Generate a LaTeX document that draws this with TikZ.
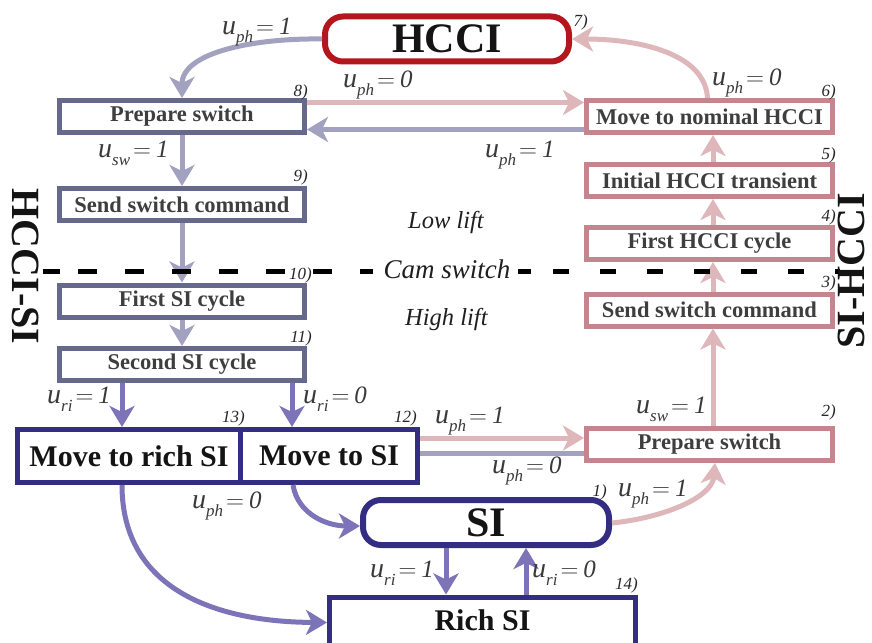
\documentclass[tikz,border=0pt]{standalone}
\usepackage{fontspec}
\setmainfont{Liberation Serif}
\usetikzlibrary{arrows.meta}

\definecolor{hcciRed}{RGB}{180,22,30}
\definecolor{siBlue}{RGB}{51,46,130}
\definecolor{leftEdge}{RGB}{102,104,140}
\definecolor{rightEdge}{RGB}{196,134,142}
\definecolor{arrowGrey}{RGB}{163,161,192}
\definecolor{arrowPink}{RGB}{222,183,187}
\definecolor{arrowViolet}{RGB}{124,115,184}
\definecolor{boxText}{RGB}{62,62,62}
\definecolor{labText}{RGB}{58,58,58}

\newcommand{\fsz}[1]{\fontsize{#1}{#1}\selectfont}
% control-signal label: u_<sub> = <value>
\newcommand{\ctl}[2]{{\fsz{28}\itshape u}\raisebox{-8pt}{\fsz{17}\itshape #1}\hspace{3pt}{\fsz{26}$=$}\hspace{5pt}{\fsz{25}\itshape #2}}

\tikzset{
  bigtip/.style={-{Stealth[length=21pt,width=25pt,inset=6pt]}},
  flowgrey/.style={draw=arrowGrey, line width=5pt, bigtip},
  flowpink/.style={draw=arrowPink, line width=5pt, bigtip},
  flowviolet/.style={draw=arrowViolet, line width=5pt, bigtip},
  stateL/.style={draw=leftEdge, fill=white, line width=5pt, minimum width=245pt,
    minimum height=32pt, inner sep=0pt, font=\bfseries\fsz{22.5}, text=boxText},
  stateR/.style={draw=rightEdge, fill=white, line width=5pt, minimum width=246pt,
    minimum height=32pt, inner sep=0pt, font=\bfseries\fsz{22.5}, text=boxText},
  stateSI/.style={draw=siBlue, fill=white, line width=5pt, minimum height=53pt,
    inner sep=0pt, font=\bfseries\fsz{30}, text=black!92},
  mode/.style={fill=white, line width=6pt, rounded corners=18pt, minimum width=244pt,
    minimum height=45pt, inner sep=0pt, font=\bfseries\fsz{42}, text=black!92},
  stepnum/.style={anchor=base east, inner sep=0pt, font=\itshape\fsz{17}, text=black!85},
  ctllab/.style={anchor=base west, inner sep=0pt, text=labText},
  lift/.style={anchor=base west, inner sep=0pt, font=\itshape\fsz{24.5}, text=black!88},
  side/.style={inner sep=0pt, font=\bfseries\fsz{40}, text=black!92},
  camline/.style={draw=black, line width=5pt}
}

\begin{document}
\begin{tikzpicture}[x=1pt,y=-1pt]
\clip (0,0) rectangle (872,642);
\fill[white] (0,0) rectangle (872,642);

% operating modes
\node[mode, draw=hcciRed] (hcci) at (447,39) {HCCI};
\node[mode, draw=siBlue, minimum width=246pt] (si) at (486,522.5) {SI};

% HCCI -> SI sequence (left column)
\node[stateL] (prepL)   at (182,116.5) {Prepare switch};
\node[stateL] (sendL)   at (182,204.5) {Send switch command};
\node[stateL] (firstSI) at (182,301)   {First SI cycle};
\node[stateL] (secSI)   at (182,364.5) {Second SI cycle};

% SI -> HCCI sequence (right column)
\node[stateR] (nominal) at (709.5,116.5) {Move to nominal HCCI};
\node[stateR] (initH)   at (709.5,180.5) {Initial HCCI transient};
\node[stateR] (firstH)  at (709.5,243.5) {First HCCI cycle};
\node[stateR] (sendR)   at (709.5,310)   {Send switch command};
\node[stateR] (prepR)   at (709.5,444.5) {Prepare switch};

% SI states
\node[stateSI, minimum width=223pt] (moveRich) at (129,456) {Move to rich SI};
\node[stateSI, minimum width=177pt] (moveSI)   at (329,456) {Move to SI};
\node[stateSI, minimum width=306pt, minimum height=80pt, anchor=north,
      text height=20.5pt, text depth=33pt] (rich) at (482.5,594.5) {Rich SI};

% step numbers
\node[stepnum] (s1)  at (607,496) {1)};
\node[stepnum] (s2)  at (836,416) {2)};
\node[stepnum] (s3)  at (836,287) {3)};
\node[stepnum] (s4)  at (836,221) {4)};
\node[stepnum] (s5)  at (836,159) {5)};
\node[stepnum] (s6)  at (836,96)  {6)};
\node[stepnum] (s7)  at (588,27)  {7)};
\node[stepnum] (s8)  at (308,96)  {8)};
\node[stepnum] (s9)  at (308,181) {9)};
\node[stepnum] (s10) at (312,279) {10)};
\node[stepnum] (s11) at (312,342) {11)};
\node[stepnum] (s12) at (417,422) {12)};
\node[stepnum] (s13) at (245,422) {13)};
\node[stepnum] (s14) at (638,589) {14)};

% transitions, left column
\draw[flowgrey] (hcci.west) .. controls (255,38) and (182,52) .. (prepL.north);
\draw[flowgrey] (prepL.south) -- (sendL.north);
\draw[flowgrey] (sendL.south) -- (firstSI.north);
\draw[flowgrey] (firstSI.south) -- (secSI.north);

% transitions between the columns at the top
\draw[flowpink] ([yshift=14pt]prepL.east) -- ([yshift=14pt]nominal.west);
\draw[flowgrey] ([yshift=-13pt]nominal.west) -- ([yshift=-13pt]prepL.east);
\draw[flowpink] ([xshift=-2pt]nominal.north) .. controls (705,52) and (635,39) .. (hcci.east);

% transitions, right column
\draw[flowpink] ([xshift=3.5pt]prepR.north) -- ([xshift=3.5pt]sendR.south);
\draw[flowpink] ([xshift=3.5pt]sendR.north) -- ([xshift=3.5pt]firstH.south);
\draw[flowpink] ([xshift=3.5pt]firstH.north) -- ([xshift=3.5pt]initH.south);
\draw[flowpink] ([xshift=3.5pt]initH.north) -- ([xshift=3.5pt]nominal.south);

% transitions into and out of SI
\draw[flowviolet] ([xshift=-60pt]secSI.south) -- ([xshift=-60pt]secSI.south |- moveRich.north);
\draw[flowviolet] ([xshift=110pt]secSI.south) -- ([xshift=110pt]secSI.south |- moveSI.north);
\draw[flowpink] ([yshift=18pt]moveSI.east) -- ([yshift=6.5pt]prepR.west);
\draw[draw=arrowGrey, line width=5pt] ([yshift=-8.5pt]prepR.west) -- ([yshift=3pt]moveSI.east);
\draw[flowviolet] ([xshift=-36pt]moveSI.south) .. controls (298,515) and (328,526) .. ([yshift=-3.5pt]si.west);
\draw[flowviolet] ([xshift=-7pt]moveRich.south) .. controls (122,592) and (220,622) .. ([yshift=-28pt]rich.north west);
\draw[flowviolet] ([xshift=-40pt]si.south) -- ([xshift=-40pt]si.south |- rich.north);
\draw[flowviolet] ([xshift=40pt]si.south |- rich.north) -- ([xshift=40pt]si.south);
\draw[flowpink] ([yshift=-0.5pt]si.east) .. controls (662,518) and (712,498) .. ([xshift=5.5pt]prepR.south);

% control-signal labels
\node[ctllab] (l1)  at (222,35)  {\ctl{ph}{1}};
\node[ctllab] (l2)  at (343,87)  {\ctl{ph}{0}};
\node[ctllab] (l3)  at (712,85)  {\ctl{ph}{0}};
\node[ctllab] (l4)  at (485,157) {\ctl{ph}{1}};
\node[ctllab] (l5)  at (98,157)  {\ctl{sw}{1}};
\node[ctllab] (l6)  at (636,413) {\ctl{sw}{1}};
\node[ctllab] (l7)  at (47,403)  {\ctl{ri}{1}};
\node[ctllab] (l8)  at (303,403) {\ctl{ri}{0}};
\node[ctllab] (l9)  at (435,423) {\ctl{ph}{1}};
\node[ctllab] (l10) at (492,473) {\ctl{ph}{0}};
\node[ctllab] (l11) at (618,496) {\ctl{ph}{1}};
\node[ctllab] (l12) at (192,508) {\ctl{ph}{0}};
\node[ctllab] (l13) at (370,577) {\ctl{ri}{1}};
\node[ctllab] (l14) at (532,577) {\ctl{ri}{0}};

% valve-lift regions and the cam switch boundary
\node[lift] (low)  at (408,228) {Low lift};
\node[lift] (high) at (405,325) {High lift};
\node[anchor=base, inner sep=0pt, font=\itshape\fsz{27}, text=black!88] (cam) at (447,278) {Cam switch};
\coordinate (camL0) at (43,271);
\coordinate (camL1) at (60,271);
\coordinate (camL2) at (78,271);
\coordinate (camL3) at (373,271);
\coordinate (camR0) at (518,271);
\coordinate (camR1) at (531,271);
\coordinate (camR2) at (553,271);
\coordinate (camR3) at (840,271);
\draw[camline] (camL0) -- (camL1);
\draw[camline, dash pattern=on 19pt off 28pt] (camL2) -- (camL3);
\draw[camline] (camR0) -- (camR1);
\draw[camline, dash pattern=on 16pt off 31pt] (camR2) -- (camR3);

% transition direction captions
\node[side, rotate=-90] (hcciSI) at (25.5,266.5) {HCCI-SI};
\node[side, rotate=90]  (siHCCI) at (851,271) {SI-HCCI};
\end{tikzpicture}
\end{document}
